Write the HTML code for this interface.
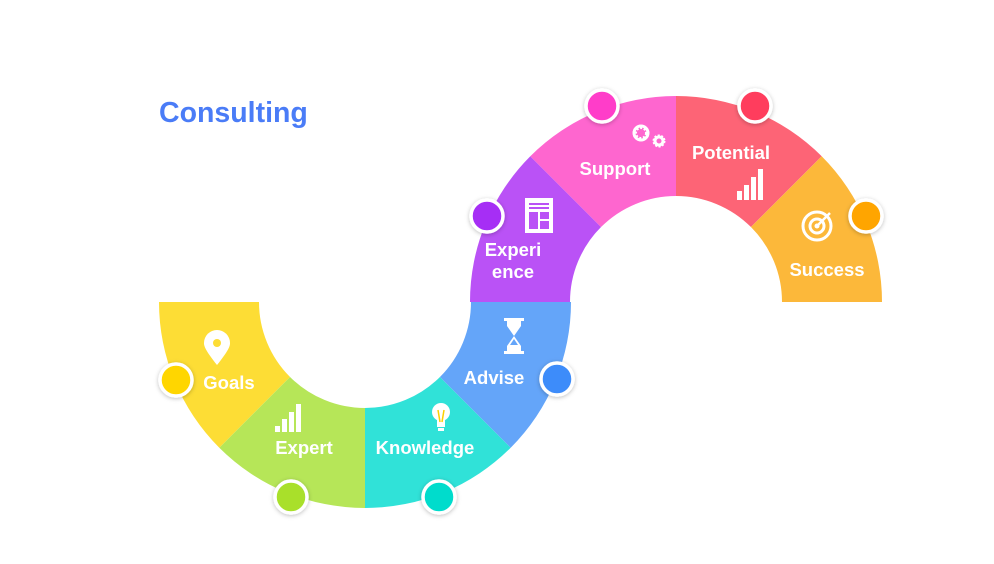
<!DOCTYPE html>
<html><head><meta charset="utf-8"><style>
html,body{margin:0;padding:0;background:#fff;}
svg{display:block;}
text{font-family:"Liberation Sans",sans-serif;font-weight:bold;fill:#fff;}
</style></head><body>
<svg width="994" height="564" viewBox="0 0 994 564" xmlns="http://www.w3.org/2000/svg">
<defs>
<filter id="sh" x="-50%" y="-50%" width="200%" height="200%"><feDropShadow dx="0" dy="1" stdDeviation="2" flood-color="#000" flood-opacity="0.25"/></filter>
</defs>
<text x="159" y="122" style="font-size:28.5px;fill:#4a7cf7;">Consulting</text>
<path d="M159,302 A206,206 0 0 0 219.3,447.7 L290.05,376.95 A106,106 0 0 1 259,302 Z" fill="#fddd35"/>
<path d="M219.3,447.7 A206,206 0 0 0 365,508 L365,408 A106,106 0 0 1 290.05,376.95 Z" fill="#b6e658"/>
<path d="M365,508 A206,206 0 0 0 510.7,447.7 L439.95,376.95 A106,106 0 0 1 365,408 Z" fill="#30e2d8"/>
<path d="M510.7,447.7 A206,206 0 0 0 571,302 L471,302 A106,106 0 0 1 439.95,376.95 Z" fill="#64a5f9"/>
<path d="M470,302 A206,206 0 0 1 530.3,156.3 L601.05,227.05 A106,106 0 0 0 570,302 Z" fill="#ba52f6"/>
<path d="M530.3,156.3 A206,206 0 0 1 676,96 L676,196 A106,106 0 0 0 601.05,227.05 Z" fill="#fe66cf"/>
<path d="M676,96 A206,206 0 0 1 821.7,156.3 L750.95,227.05 A106,106 0 0 0 676,196 Z" fill="#fd6476"/>
<path d="M821.7,156.3 A206,206 0 0 1 882,302 L782,302 A106,106 0 0 0 750.95,227.05 Z" fill="#fcb83a"/>
<g style="font-size:18.5px" text-anchor="middle">
<text x="229" y="389">Goals</text>
<text x="304" y="454">Expert</text>
<text x="425" y="454">Knowledge</text>
<text x="494" y="384">Advise</text>
<text x="513" y="256">Experi</text>
<text x="513" y="278">ence</text>
<text x="615" y="175">Support</text>
<text x="731" y="159">Potential</text>
<text x="827" y="276">Success</text>
</g>
<path d="M217,365 C205,350 204,346 204,343 A13,13 0 0 1 230,343 C230,346 229,350 217,365 Z" fill="#fff"/>
<circle cx="217" cy="343" r="4" fill="#fddd35"/>
<g fill="#fff"><rect x="275" y="426" width="5" height="6"/><rect x="282" y="419" width="5" height="13"/><rect x="289" y="412" width="5" height="20"/><rect x="296" y="404" width="5" height="28"/></g>
<g fill="#fff"><rect x="737" y="191" width="5" height="9"/><rect x="744" y="185" width="5" height="15"/><rect x="751" y="177" width="5" height="23"/><rect x="758" y="169" width="5" height="31"/></g>
<g><circle cx="441" cy="412" r="9" fill="#fff"/><rect x="437" y="419" width="8" height="8" fill="#fff"/><path d="M438,410 L440,422 M444,410 L442,422" stroke="#fcd000" stroke-width="1.5"/><rect x="438" y="428" width="6" height="3" fill="#fff"/></g>
<g fill="#fff"><rect x="504" y="318" width="20" height="3"/><rect x="504" y="351" width="20" height="3"/><path d="M507,321 L521,321 L521,326 L514,336 L521,346 L521,351 L507,351 L507,346 L514,336 L507,326 Z"/></g>
<path d="M510,345 L518,345 L514,339 Z" fill="#64a5f9"/>
<g><rect x="525" y="198" width="28" height="35" fill="#fff"/><rect x="529" y="203" width="20" height="2" fill="#ba52f6"/><rect x="529" y="207" width="20" height="2" fill="#ba52f6"/><rect x="529" y="212" width="9" height="17" fill="#ba52f6"/><rect x="540" y="212" width="9" height="7" fill="#ba52f6"/><rect x="540" y="221" width="9" height="8" fill="#ba52f6"/></g>
<g fill="none" stroke="#fff"><circle cx="641" cy="133" r="6" stroke-width="4" stroke-dasharray="2.5 2"/><circle cx="641" cy="133" r="7" stroke-width="3"/><circle cx="659" cy="141" r="4" stroke-width="3"/><circle cx="659" cy="141" r="5.5" stroke-width="2" stroke-dasharray="2 1.5"/></g>
<g fill="none" stroke="#fff" stroke-width="3"><circle cx="817" cy="226" r="14"/><circle cx="817" cy="226" r="7"/></g>
<circle cx="817" cy="226" r="2.5" fill="#fff"/><path d="M817,226 L830,213" stroke="#fff" stroke-width="2.5"/>
<g filter="url(#sh)" stroke="#fff" stroke-width="3.5">
<circle cx="176" cy="380" r="16" fill="#ffd600"/>
<circle cx="291" cy="497" r="16" fill="#a9e02b"/>
<circle cx="439" cy="497" r="16" fill="#00dccc"/>
<circle cx="557" cy="379" r="16" fill="#3d8cfa"/>
<circle cx="487" cy="216" r="16" fill="#a62df5"/>
<circle cx="602" cy="106" r="16" fill="#ff3ec9"/>
<circle cx="755" cy="106" r="16" fill="#ff3d5d"/>
<circle cx="866" cy="216" r="16" fill="#ffa502"/>
</g>
</svg>
</body></html>
